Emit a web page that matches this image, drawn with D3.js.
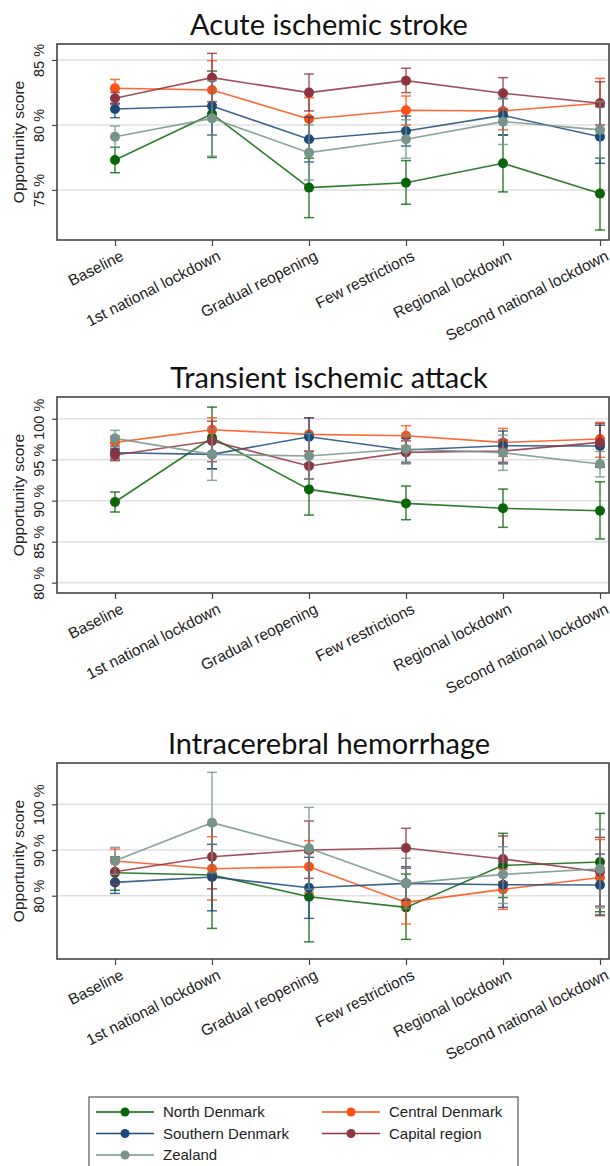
<!DOCTYPE html>
<html><head><meta charset="utf-8">
<script src="https://cdn.jsdelivr.net/npm/d3@7"></script>
<style>body{margin:0;background:#fff}svg{display:block}</style>
</head><body>
<svg id="c" width="610" height="1166"></svg>
<script>
// ---------- DATA ----------
const categories = ["Baseline","1st national lockdown","Gradual reopening","Few restrictions","Regional lockdown","Second national lockdown"];
const regions = ["North Denmark","Central Denmark","Southern Denmark","Capital region","Zealand"];
const panelTitles = ["Acute ischemic stroke","Transient ischemic attack","Intracerebral hemorrhage"];
const aisTicks = [75,80,85];
const tiaTicks = [80,85,90,95,100];
const ichTicks = [80,90,100];

// Acute ischemic stroke (rows follow `regions`)
const aisMean = [
  [77.30,80.85,75.18,75.56,77.05,74.72],
  [82.82,82.69,80.46,81.13,81.08,81.67],
  [81.23,81.46,78.90,79.54,80.74,79.10],
  [82.05,83.64,82.49,83.41,82.44,81.67],
  [79.10,80.51,77.87,78.90,80.26,79.62]];
const aisLo = [
  [76.33,77.50,72.87,73.90,74.85,71.92],
  [82.10,80.40,78.80,80.00,79.62,79.70],
  [80.56,79.23,77.15,78.38,79.23,77.05],
  [81.60,81.80,81.08,82.49,81.20,80.00],
  [78.28,77.60,75.77,77.44,78.50,77.44]];
const aisHi = [
  [78.28,84.15,77.45,77.26,79.23,77.44],
  [83.50,84.95,82.10,82.23,82.50,83.59],
  [81.67,83.70,80.60,80.69,82.05,81.40],
  [82.50,85.51,83.92,84.36,83.64,83.33],
  [79.92,83.40,80.00,80.40,82.00,81.80]];

// Transient ischemic attack
const tiaMean = [
  [89.84,97.68,91.38,89.67,89.07,88.78],
  [97.11,98.66,98.09,97.93,97.11,97.52],
  [95.85,95.65,97.80,96.18,96.70,96.67],
  [95.57,97.28,94.23,95.89,96.06,97.11],
  [97.60,95.65,95.45,96.30,95.85,94.47]];
const tiaLo = [
  [88.62,93.90,88.25,87.68,86.75,85.33],
  [96.30,97.20,96.00,96.70,95.40,95.30],
  [95.10,93.90,95.50,94.70,94.50,94.10],
  [94.88,94.76,92.64,94.51,94.70,94.10],
  [96.60,92.48,92.70,94.60,93.70,92.90]];
const tiaHi = [
  [91.06,101.42,94.50,91.79,91.42,92.30],
  [97.90,100.12,100.12,99.15,98.82,99.55],
  [96.60,97.40,100.10,97.60,98.50,99.20],
  [96.30,99.70,96.06,97.30,97.40,99.40],
  [98.58,98.80,98.20,98.00,98.00,96.00]];

// Intracerebral hemorrhage
const ichMean = [
  [85.04,84.53,79.78,77.45,86.64,87.37],
  [87.60,85.91,86.35,78.54,81.39,84.00],
  [82.92,84.09,81.75,82.70,82.40,82.34],
  [85.26,88.54,90.00,90.44,88.03,85.26],
  [87.66,95.98,90.36,82.70,84.67,85.91]];
const ichLo = [
  [81.20,72.85,69.90,70.44,79.60,76.50],
  [84.80,79.05,80.70,73.80,77.00,75.60],
  [80.50,76.70,75.04,79.00,77.45,75.80],
  [82.50,81.50,83.80,86.00,83.00,77.70],
  [84.70,85.00,81.40,77.20,78.30,77.30]];
const ichHi = [
  [88.50,96.00,89.50,84.74,93.65,98.03],
  [90.20,92.92,92.04,83.30,85.80,92.30],
  [85.30,91.24,88.40,86.35,87.40,89.10],
  [88.00,95.50,96.35,94.74,93.07,92.77],
  [90.58,107.00,99.34,88.20,90.70,94.50]];

// ---------- STYLE / LAYOUT ----------
const colors = ["#0a640a","#ff4f12","#1b4a7a","#8e3440","#76948a"];
const FONT = "'Liberation Sans', Arial, sans-serif";
const frameL = 57, frameR = 609, frameH = 196;
const panels = [
  {title: panelTitles[0], top: 44,  domain: [71.15, 86.23], ticks: aisTicks, mean: aisMean, lo: aisLo, hi: aisHi},
  {title: panelTitles[1], top: 397, domain: [78.74, 102.65], ticks: tiaTicks, mean: tiaMean, lo: tiaLo, hi: tiaHi},
  {title: panelTitles[2], top: 763, domain: [66.15, 109.04], ticks: ichTicks, mean: ichMean, lo: ichLo, hi: ichHi}
];

const svg = d3.select("#c");
const x = d3.scalePoint().domain(categories).range([115, 600]);

panels.forEach(p => {
  const y = d3.scaleLinear().domain(p.domain).range([p.top + frameH, p.top]);
  const g = svg.append("g");

  // title
  g.append("text").attr("x", 329).attr("y", p.top - 9)
    .attr("text-anchor", "middle")
    .style("font-family", "Lato, 'Open Sans', sans-serif").style("font-size", "29px").style("fill", "#111")
    .text(p.title);

  // gridlines
  g.selectAll(".grid").data(p.ticks).join("line")
    .attr("x1", frameL).attr("x2", frameR)
    .attr("y1", d => y(d)).attr("y2", d => y(d))
    .attr("stroke", "#e0e0e0").attr("stroke-width", 1.6);

  // y axis
  const ya = g.append("g").attr("transform", `translate(${frameL},0)`)
    .call(d3.axisLeft(y).tickValues(p.ticks).tickSize(5).tickFormat(d => d + " %"));
  ya.select(".domain").remove();
  ya.selectAll(".tick line").attr("stroke", "#444").attr("stroke-width", 1.2);
  ya.selectAll(".tick text")
    .attr("x", 0).attr("y", -13).attr("dy", null)
    .attr("transform", "rotate(-90)")
    .attr("text-anchor", "middle")
    .style("font-family", FONT).style("font-size", "14.5px").style("fill", "#222");

  // y axis title
  g.append("text")
    .attr("transform", `translate(24,${p.top + frameH / 2}) rotate(-90)`)
    .attr("text-anchor", "middle")
    .style("font-family", FONT).style("font-size", "15.5px").style("fill", "#222")
    .text("Opportunity score");

  // x axis
  const xa = g.append("g").attr("transform", `translate(0,${p.top + frameH})`)
    .call(d3.axisBottom(x).tickSize(6));
  xa.select(".domain").remove();
  xa.selectAll(".tick line").attr("stroke", "#444").attr("stroke-width", 1.2);
  xa.selectAll(".tick text")
    .attr("x", 0).attr("y", 0).attr("dy", "0.75em")
    .attr("transform", "translate(4,9) rotate(-27)")
    .attr("text-anchor", "end")
    .style("font-family", FONT).style("font-size", "15.5px").style("fill", "#222");

  // series
  regions.forEach((r, i) => {
    const pts = categories.map((c, j) => ({c, m: p.mean[i][j], lo: p.lo[i][j], hi: p.hi[i][j]}));
    const sg = g.append("g");
    // error bars
    sg.selectAll(".eb").data(pts).join("line")
      .attr("x1", d => x(d.c)).attr("x2", d => x(d.c))
      .attr("y1", d => y(d.lo)).attr("y2", d => y(d.hi))
      .attr("stroke", colors[i]).attr("stroke-width", 1.5).attr("stroke-opacity", 0.8);
    ["lo", "hi"].forEach(k => {
      sg.selectAll(".cap" + k).data(pts).join("line")
        .attr("x1", d => x(d.c) - 5).attr("x2", d => x(d.c) + 5)
        .attr("y1", d => y(d[k])).attr("y2", d => y(d[k]))
        .attr("stroke", colors[i]).attr("stroke-width", 1.5).attr("stroke-opacity", 0.8);
    });
    // line
    sg.append("path").datum(pts)
      .attr("d", d3.line().x(d => x(d.c)).y(d => y(d.m)))
      .attr("fill", "none").attr("stroke", colors[i]).attr("stroke-width", 1.6).attr("stroke-opacity", 0.85);
    // markers
    sg.selectAll(".pt").data(pts).join("circle")
      .attr("cx", d => x(d.c)).attr("cy", d => y(d.m)).attr("r", 5)
      .attr("fill", colors[i]);
  });

  // frame
  g.append("rect").attr("x", frameL).attr("y", p.top)
    .attr("width", frameR - frameL).attr("height", frameH)
    .attr("fill", "none").attr("stroke", "#444").attr("stroke-width", 1.6);
});

// ---------- LEGEND ----------
const lg = svg.append("g");
lg.append("rect").attr("x", 89).attr("y", 1097).attr("width", 429).attr("height", 90)
  .attr("fill", "#fff").attr("stroke", "#555").attr("stroke-width", 1.2);
const legendPos = [[0,0],[1,0],[0,1],[1,1],[0,2]];
regions.forEach((r, i) => {
  const col = legendPos[i][0], row = legendPos[i][1];
  const x0 = col === 0 ? 96 : 322;
  const yy = 1112 + row * 21.5;
  lg.append("line").attr("x1", x0).attr("x2", x0 + 58).attr("y1", yy).attr("y2", yy)
    .attr("stroke", colors[i]).attr("stroke-width", 1.6);
  lg.append("circle").attr("cx", x0 + 29).attr("cy", yy).attr("r", 4.5).attr("fill", colors[i]);
  lg.append("text").attr("x", x0 + 67).attr("y", yy).attr("dy", "0.36em")
    .style("font-family", FONT).style("font-size", "15px").style("fill", "#222")
    .text(r);
});
</script>
</body></html>
